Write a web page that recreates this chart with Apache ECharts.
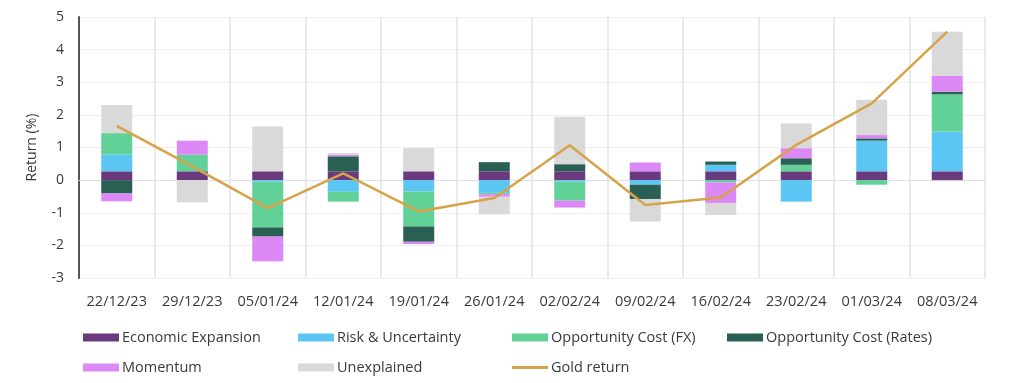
<!DOCTYPE html>
<html>
<head>
<meta charset="utf-8">
<script src="https://cdn.jsdelivr.net/npm/echarts@6/dist/echarts.min.js"></script>
<style>html,body{margin:0;padding:0;background:#fff}#c{width:1024px;height:383px}</style>
</head>
<body>
<div id="c"></div>
<script>
const categories = ['22/12/23','29/12/23','05/01/24','12/01/24','19/01/24','26/01/24','02/02/24','09/02/24','16/02/24','23/02/24','01/03/24','08/03/24'];
const economicExpansion = [0.27, 0.27, 0.27, 0.27, 0.27, 0.27, 0.27, 0.27, 0.27, 0.27, 0.27, 0.27];
const riskUncertainty   = [0.51, 0, -0.05, -0.36, -0.35, -0.39, -0.05, -0.14, 0.20, -0.66, 0.94, 1.22];
const oppCostFX         = [0.66, 0.51, -1.40, -0.30, -1.07, -0.04, -0.58, 0, -0.07, 0.20, -0.14, 1.14];
const oppCostRates      = [-0.41, 0, -0.28, 0.46, -0.47, 0.28, 0.22, -0.44, 0.10, 0.20, 0.07, 0.08];
const momentum          = [-0.24, 0.43, -0.76, 0.04, -0.07, -0.08, -0.21, 0.27, -0.63, 0.31, 0.10, 0.49];
const unexplained       = [0.86, -0.68, 1.37, 0.06, 0.71, -0.54, 1.45, -0.69, -0.37, 0.76, 1.08, 1.35];
const goldReturn        = [1.66, 0.42, -0.86, 0.21, -0.96, -0.55, 1.07, -0.76, -0.53, 1.08, 2.35, 4.55];
const yTicks = { min: -3, max: 5, interval: 1 };

const names = ['Economic Expansion','Risk & Uncertainty','Opportunity Cost (FX)','Opportunity Cost (Rates)','Momentum','Unexplained','Gold return'];
const colors = ['#6b3a7e','#5bc6f4','#62d197','#2a5f53','#dc88f6','#d9d9d9','#d6a34b'];
const barData = [economicExpansion, riskUncertainty, oppCostFX, oppCostRates, momentum, unexplained];

const series = barData.map((d, i) => ({
  name: names[i], type: 'bar', stack: 'total', data: d, barWidth: 31,
  itemStyle: { color: colors[i] }
}));
series.push({
  name: names[6], type: 'line', data: goldReturn, symbol: 'none',
  lineStyle: { color: colors[6], width: 2.5 }, itemStyle: { color: colors[6] }, z: 5
});

const legendPos = [[83,330],[298,330],[512,330],[727,330],[83,360],[298,360],[512,360]];
const legends = names.map((n, i) => ({
  data: [n], left: legendPos[i][0], top: legendPos[i][1], padding: 0,
  itemWidth: 36, itemHeight: i === 6 ? 3 : 8, itemGap: 0, icon: 'rect',
  textStyle: { fontFamily: 'Open Sans', fontSize: 14.5, color: '#3a3a3a', padding: [0,0,0,-2] }
}));

const chart = echarts.init(document.getElementById('c'), null, { renderer: 'canvas' });
chart.setOption({
  animation: false,
  textStyle: { fontFamily: 'Open Sans' },
  grid: { left: 79, right: 39, top: 17, bottom: 105 },
  legend: legends,
  xAxis: {
    type: 'category', data: categories,
    axisLine: { lineStyle: { color: '#e0e0e0', width: 1 } },
    axisTick: { show: false },
    axisLabel: { color: '#3a3a3a', fontSize: 14.5, margin: 16, interval: 0 },
    splitLine: { show: true, interval: 0, lineStyle: { color: '#e3e3e3', width: 1.5 } }
  },
  yAxis: {
    type: 'value', min: yTicks.min, max: yTicks.max, interval: yTicks.interval,
    name: 'Return (%)', nameLocation: 'middle', nameGap: 40,
    nameTextStyle: { color: '#3a3a3a', fontSize: 14 },
    axisLine: { show: true, lineStyle: { color: '#555', width: 2 } },
    axisTick: { show: false },
    axisLabel: { color: '#3a3a3a', fontSize: 14, margin: 15 },
    splitLine: { lineStyle: { color: '#efefef', width: 1 } }
  },
  series
});
</script>
</body>
</html>
